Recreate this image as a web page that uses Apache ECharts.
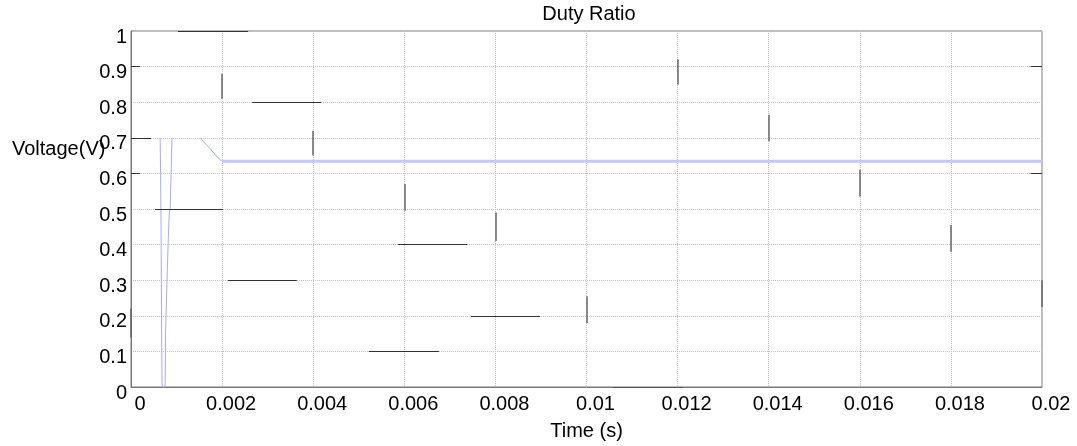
<!DOCTYPE html>
<html>
<head>
<meta charset="utf-8">
<script src="https://cdn.jsdelivr.net/npm/echarts@6/dist/echarts.min.js"></script>
<style>
  html, body { margin: 0; padding: 0; background: #fff; }
  #chart { width: 1077px; height: 446px; }
</style>
</head>
<body>
<div id="chart"></div>
<script>
// duty ratio trace: start-up transient (null = no trace drawn there)
const transientTime = [0.00064, 0.00065, 0.00066, 0.00067, 0.00068, 0.00069, 0.00074, 0.00075, 0.00076,
  0.00078, 0.0008, 0.00082, 0.00084, 0.00086, 0.00088, 0.0009, 0.0012, 0.00152, 0.0016, 0.0017, 0.0018, 0.0019, 0.002];
const transientValue = [0.7, 0.6, 0.44, 0.2, 0.01, 0, 0, 0.01, 0.16,
  0.25, 0.34, 0.42, 0.49, 0.5, 0.6, 0.7, null, 0.7, 0.688, 0.675, 0.66, 0.645, 0.634];

// steady state (rippling band around ~0.634)
const steadyTime = [0.002, 0.004, 0.006, 0.008, 0.01, 0.012, 0.014, 0.016, 0.018, 0.02];
const steadyValue = [0.634, 0.634, 0.634, 0.634, 0.634, 0.634, 0.634, 0.634, 0.634, 0.634];

// black horizontal fragments: [tStart, tEnd, level]
const hSegments = [
  [0.00103, 0.00257, 1.0],
  [0.00266, 0.00417, 0.8],
  [0, 0.00044, 0.7],
  [0.00053, 0.00202, 0.5],
  [0.00586, 0.00738, 0.4],
  [0.00213, 0.00364, 0.3],
  [0.00746, 0.00898, 0.2],
  [0.00522, 0.00676, 0.1],
  [0.01058, 0.01212, 0.0],
  [0, 0.0002, 0.9],
  [0, 0.0002, 0.6],
  [0.01975, 0.02, 0.9],
  [0.01975, 0.02, 0.6]
];
// gray vertical fragments: [t, yLow, yHigh]
const vSegments = [
  [0, 0.14, 0.22],
  [0.002, 0.81, 0.88],
  [0.004, 0.65, 0.72],
  [0.006, 0.495, 0.57],
  [0.008, 0.41, 0.49],
  [0.01, 0.18, 0.255],
  [0.012, 0.85, 0.92],
  [0.014, 0.69, 0.765],
  [0.016, 0.535, 0.61],
  [0.018, 0.38, 0.455],
  [0.02, 0.225, 0.30]
];

const font = 'Liberation Sans, Arial, sans-serif';
const chart = echarts.init(document.getElementById('chart'));

const fmt = v => String(parseFloat(v.toFixed(4)));

chart.setOption({
  animation: false,
  backgroundColor: '#fff',
  title: [
    { text: 'Duty Ratio', left: 584, top: -1, textAlign: 'center',
      textStyle: { fontFamily: font, fontSize: 20, fontWeight: 'normal', color: '#000' } },
    { text: 'Voltage(V)', left: 7, top: 134,
      textStyle: { fontFamily: font, fontSize: 20, fontWeight: 'normal', color: '#000' } }
  ],
  grid: { left: 131, right: 35, top: 31, bottom: 59, show: true, borderColor: '#777', borderWidth: 1 },
  xAxis: {
    type: 'value', min: 0, max: 0.02, interval: 0.002,
    name: 'Time (s)', nameLocation: 'middle', nameGap: 34,
    nameTextStyle: { fontFamily: font, fontSize: 20, color: '#000' },
    axisLine: { lineStyle: { color: '#777' } },
    axisTick: { show: false },
    axisLabel: { fontFamily: font, fontSize: 20, color: '#000', margin: 7,
      padding: [0, 0, 0, 18], formatter: fmt },
    splitLine: { lineStyle: { type: 'dotted', color: '#c4c4c4' } }
  },
  yAxis: {
    type: 'value', min: 0, max: 1, interval: 0.1,
    axisLine: { show: true, lineStyle: { color: '#777' } },
    axisTick: { show: false },
    axisLabel: { fontFamily: font, fontSize: 20, color: '#000', margin: 4,
      verticalAlign: 'top', lineHeight: 12, formatter: fmt },
    splitLine: { lineStyle: { type: 'dotted', color: '#c4c4c4' } }
  },
  series: [
    {
      type: 'line', showSymbol: false, symbol: 'none', connectNulls: false,
      data: transientTime.map((t, i) => [t, transientValue[i] === null ? '-' : transientValue[i]]),
      lineStyle: { color: '#a8a8ff', width: 1 }, z: 3
    },
    {
      type: 'line', showSymbol: false, symbol: 'none',
      data: steadyTime.map((t, i) => [t, steadyValue[i]]),
      lineStyle: { color: '#c6c6fa', width: 3 }, z: 3
    },
    {
      type: 'lines', coordinateSystem: 'cartesian2d',
      data: hSegments.map(s => ({ coords: [[s[0], s[2]], [s[1], s[2]]] })),
      lineStyle: { color: '#333', width: 1, opacity: 1 }, z: 4
    },
    {
      type: 'lines', coordinateSystem: 'cartesian2d',
      data: vSegments.map(s => ({ coords: [[s[0], s[1]], [s[0], s[2]]] })),
      lineStyle: { color: '#666', width: 1.5, opacity: 1 }, z: 4
    }
  ]
});
</script>
</body>
</html>
